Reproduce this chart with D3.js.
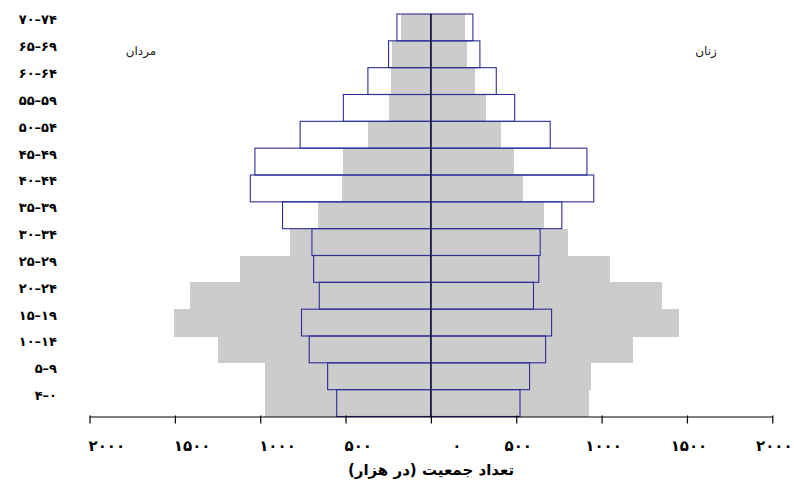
<!DOCTYPE html>
<html>
<head>
<meta charset="utf-8">
<script src="https://cdn.jsdelivr.net/npm/d3@7"></script>
<style>
  html, body { margin: 0; padding: 0; background: #fff; }
  svg { display: block; }
  text { font-family: "DejaVu Sans", sans-serif; }
</style>
</head>
<body>
<svg id="chart" width="794" height="490"></svg>
<script>
// Age groups, bottom (youngest) to top (oldest)
const ageGroups = ["۴–۰","۵–۹","۱۰–۱۴","۱۵–۱۹","۲۰–۲۴","۲۵–۲۹","۳۰–۳۴","۳۵–۳۹","۴۰–۴۴","۴۵–۴۹","۵۰–۵۴","۵۵–۵۹","۶۰–۶۴","۶۵–۶۹","۷۰–۷۴"];

// Outlined pyramid (thousands)
const outlinedMen   = [552, 605, 713, 758, 654, 687, 697, 869, 1058, 1031, 766, 513, 369, 248, 199];
const outlinedWomen = [522, 578, 672, 707, 601, 632, 640, 767, 954, 914, 699, 491, 383, 287, 246];

// Gray pyramid (thousands)
const grayMen   = [973, 973, 1248, 1503, 1410, 1120, 826, 660, 522, 513, 366, 248, 236, 225, 175];
const grayWomen = [929, 939, 1185, 1453, 1351, 1047, 802, 660, 537, 488, 413, 321, 256, 213, 197];

// Axis ticks
const tickValues = [-2000, -1500, -1000, -500, 0, 500, 1000, 1500, 2000];
const tickLabels = ["۲۰۰۰","۱۵۰۰","۱۰۰۰","۵۰۰","۰","۵۰۰","۱۰۰۰","۱۵۰۰","۲۰۰۰"];

const menLabel = "مردان";
const womenLabel = "زنان";
const axisTitle = "تعداد جمعیت (در هزار)";

const svg = d3.select("#chart");

const x = d3.scaleLinear().domain([-2000, 2000]).range([89.5, 772.3]);
const y = d3.scaleBand().domain(ageGroups).range([416.5, 14]).padding(0);

const grayColor = "#cccccc";
const strokeBlue = "#2e2e96";

// Gray pyramid
const gGray = svg.append("g").attr("shape-rendering", "crispEdges");
gGray.selectAll("rect.gm").data(ageGroups).join("rect")
  .attr("x", (d, i) => x(-grayMen[i]))
  .attr("y", d => y(d))
  .attr("width", (d, i) => x(0) - x(-grayMen[i]))
  .attr("height", y.bandwidth() + 0.5)
  .attr("fill", grayColor);
gGray.selectAll("rect.gw").data(ageGroups).join("rect")
  .attr("x", x(0))
  .attr("y", d => y(d))
  .attr("width", (d, i) => x(grayWomen[i]) - x(0))
  .attr("height", y.bandwidth() + 0.5)
  .attr("fill", grayColor);

// Outlined pyramid
const gOut = svg.append("g");
gOut.selectAll("rect.om").data(ageGroups).join("rect")
  .attr("x", (d, i) => x(-outlinedMen[i]))
  .attr("y", d => y(d))
  .attr("width", (d, i) => x(0) - x(-outlinedMen[i]))
  .attr("height", y.bandwidth())
  .attr("fill", "none")
  .attr("stroke", strokeBlue)
  .attr("stroke-width", 1.1);
gOut.selectAll("rect.ow").data(ageGroups).join("rect")
  .attr("x", x(0))
  .attr("y", d => y(d))
  .attr("width", (d, i) => x(outlinedWomen[i]) - x(0))
  .attr("height", y.bandwidth())
  .attr("fill", "none")
  .attr("stroke", strokeBlue)
  .attr("stroke-width", 1.1);

// Center line
svg.append("line")
  .attr("x1", x(0)).attr("x2", x(0))
  .attr("y1", 14).attr("y2", 416.5)
  .attr("stroke", "#000").attr("stroke-width", 1);

// X axis
const axis = d3.axisBottom(x).tickValues(tickValues).tickSize(7).tickSizeOuter(0).tickFormat("");
const gAxis = svg.append("g").attr("transform", "translate(0,416.5)").call(axis);
gAxis.select(".domain").attr("stroke", "#000").attr("stroke-width", 1.2);
gAxis.selectAll(".tick line").attr("stroke", "#000").attr("stroke-width", 1.2).attr("y1", -1);

// Tick labels
svg.append("g").selectAll("text").data(tickValues).join("text")
  .attr("x", d => d < 0 ? x(d) - 1 : (d === 0 ? x(d) + 26 : x(d) + 2))
  .attr("y", 451)
  .attr("text-anchor", d => d < 0 ? "start" : "middle")
  .attr("direction", "ltr")
  .attr("font-size", 15)
  .attr("letter-spacing", 1.5)
  .attr("font-weight", "bold")
  .attr("fill", "#000")
  .text((d, i) => tickLabels[i]);

// Age labels
svg.append("g").selectAll("text").data(ageGroups).join("text")
  .attr("x", 57)
  .attr("y", d => y(d) + y.bandwidth() / 2 - 3)
  .attr("text-anchor", "end")
  .attr("direction", "ltr")
  .attr("font-size", 13)
  .attr("font-weight", "bold")
  .attr("fill", "#000")
  .text(d => d);

// Sex labels
svg.append("text").attr("x", 141).attr("y", 55)
  .attr("text-anchor", "middle").attr("font-size", 12).attr("fill", "#222")
  .text(menLabel);
svg.append("text").attr("x", 706).attr("y", 55)
  .attr("text-anchor", "middle").attr("font-size", 12).attr("fill", "#222")
  .text(womenLabel);

// Axis title
svg.append("text").attr("x", 431).attr("y", 475)
  .attr("text-anchor", "middle").attr("font-size", 15).attr("font-weight", "bold")
  .attr("fill", "#000")
  .text(axisTitle);
</script>
</body>
</html>
